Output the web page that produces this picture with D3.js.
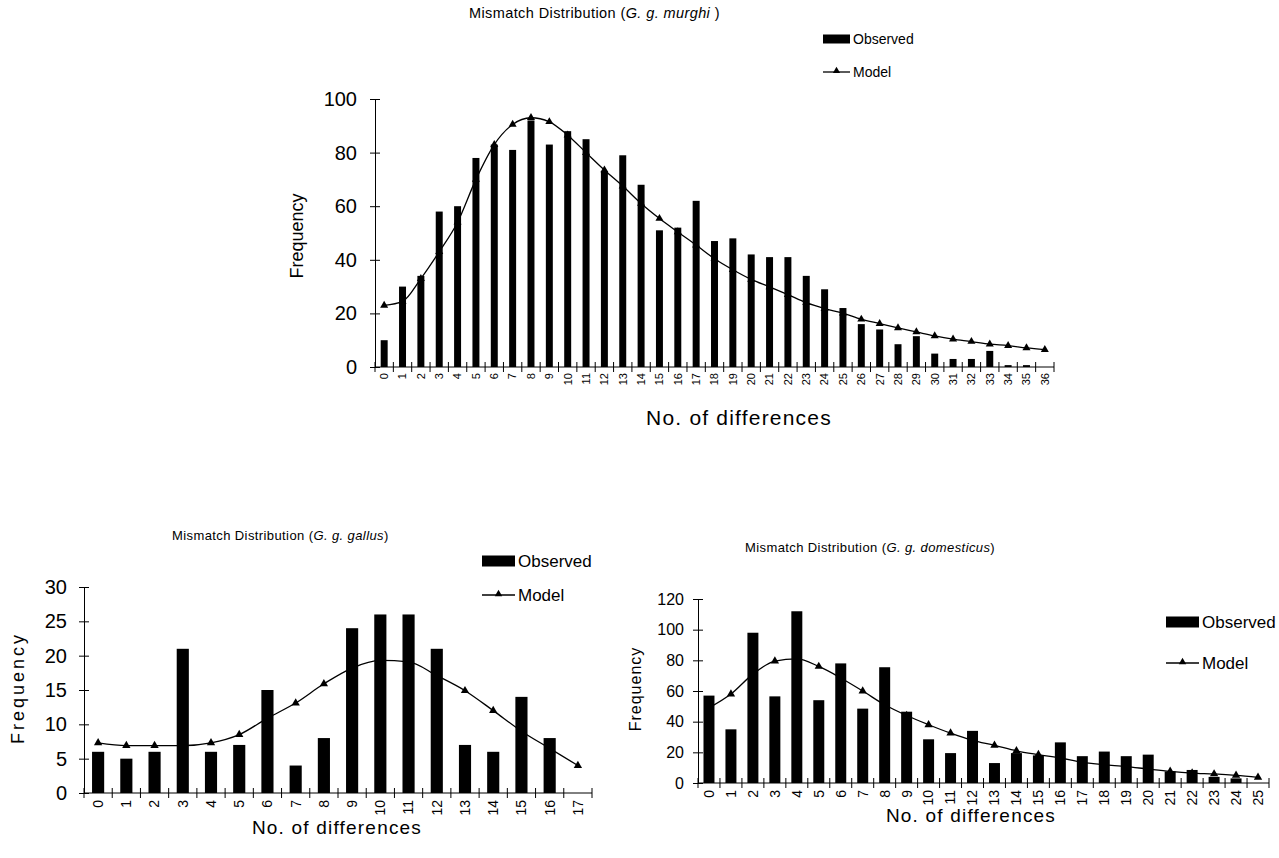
<!DOCTYPE html>
<html>
<head>
<meta charset="utf-8">
<script src="https://cdn.jsdelivr.net/npm/d3@7"></script>
<style>
  body { margin: 0; background: #fff; }
  svg { font-family: "Liberation Sans", Arial, sans-serif; }
</style>
</head>
<body>
<div class="main"></div>
<script>
// G. g. murghi
var murghiObserved = [10, 30, 34, 58, 60, 78, 83, 81, 92, 83, 88, 85, 73, 79, 68, 51, 52, 62, 47, 48,
                      42, 41, 41, 34, 29, 22, 16, 14, 8.5, 11.5, 5, 3, 3, 6, 0.7, 0.7, 0];
var murghiModel = [23, 24.5, 33, 43, 54, 70, 83, 90.5, 93, 91.5, 86.5, 80, 73.5, 67.5, 61, 55.4, 50.4, 45.5,
                   40.4, 36.3, 32.7, 29.9, 27, 24, 21.8, 20.1, 17.8, 16.2, 14.6, 13.1, 11.6, 10.4, 9.5, 8.5, 8, 7.1, 6.5];
// G. g. gallus
var gallusObserved = [6, 5, 6, 21, 6, 7, 15, 4, 8, 24, 26, 26, 21, 7, 6, 14, 8, 0];
var gallusModel = [7.3, 6.9, 6.9, 6.9, 7.3, 8.5, 10.9, 13.1, 15.9, 18.2, 19.3, 19.1, 17.1, 14.9, 12, 9, 6.5, 4];
// G. g. domesticus
var domObserved = [57, 35, 98, 56.5, 112, 54, 78, 48.5, 75.5, 46.5, 28.5, 19.5, 34, 13, 19.5, 18, 26.5, 17.5,
                   20.5, 17.5, 18.5, 7.5, 8.5, 4, 3, 0];
var domModel = [49, 58, 71, 79.5, 81, 76, 68.5, 60, 51, 44, 38, 32.5, 27.8, 24.6, 21, 18.5, 16.3, 13.5,
                12, 10.7, 9.1, 7.6, 6.5, 5.9, 5, 3.7];

var svg = d3.select(".main").append("svg")
    .attr("width", 1279)
    .attr("height", 858);

function drawChart(opt) {
    var cats = opt.observed.map((d, i) => i);
    var x = d3.scaleBand().domain(cats).range([opt.left, opt.right]);
    var y = d3.scaleLinear().domain([0, opt.yMax]).range([opt.bottom, opt.top]);
    var g = svg.append("g");

    // bars
    g.selectAll("rect.bar")
        .data(opt.observed)
        .enter()
        .append("rect")
        .attr("class", "bar")
        .attr("x", (d, i) => x(i) + x.bandwidth() * (1 - opt.barFrac) / 2)
        .attr("width", x.bandwidth() * opt.barFrac)
        .attr("y", d => y(d))
        .attr("height", d => opt.bottom - y(d))
        .style("fill", "#000");

    // model line
    var line = d3.line()
        .x((d, i) => x(i) + x.bandwidth() / 2)
        .y(d => y(d))
        .curve(d3.curveMonotoneX);
    g.append("path")
        .datum(opt.model)
        .attr("d", line)
        .style("fill", "none")
        .style("stroke", "#000")
        .style("stroke-width", 1.3);
    var tri = d3.symbol().type(d3.symbolTriangle).size(opt.markSize);
    g.selectAll("path.mark")
        .data(opt.model)
        .enter()
        .append("path")
        .attr("class", "mark")
        .attr("d", tri)
        .attr("transform", (d, i) => "translate(" + (x(i) + x.bandwidth() / 2) + "," + y(d) + ")")
        .style("fill", "#000");

    // y axis
    var yAxis = d3.axisLeft(y).tickValues(d3.range(0, opt.yMax + 1, opt.yStep))
        .tickSizeInner(-5).tickSizeOuter(0).tickPadding(0);
    var ya = g.append("g").attr("transform", "translate(" + opt.left + ",0)").call(yAxis);
    ya.select(".domain").style("stroke", "#000");
    ya.selectAll(".tick line").attr("x1", -5).attr("x2", 5).style("stroke", "#000");
    ya.selectAll(".tick text").attr("x", -opt.yLabelGap)
        .style("font-size", opt.yFont + "px").style("font-family", "Liberation Sans").style("fill", "#000");

    // x axis: ticks at band edges
    var xAxisGroup = g.append("g").attr("transform", "translate(0," + opt.bottom + ")");
    xAxisGroup.append("line")
        .attr("x1", opt.left).attr("x2", opt.right)
        .style("stroke", "#000");
    var edges = cats.map(i => x(i)).concat([opt.right]);
    xAxisGroup.selectAll("line.tk")
        .data(edges)
        .enter()
        .append("line")
        .attr("class", "tk")
        .attr("x1", d => d).attr("x2", d => d)
        .attr("y1", -5).attr("y2", 5)
        .style("stroke", "#000");
    xAxisGroup.selectAll("text")
        .data(cats)
        .enter()
        .append("text")
        .attr("transform", d => "translate(" + (x(d) + x.bandwidth() / 2 + opt.xFont * 0.35) + "," + opt.xLabelGap + ") rotate(-90)")
        .attr("text-anchor", "end")
        .style("font-size", opt.xFont + "px")
        .text(d => d);

    // axis titles
    g.append("text")
        .attr("transform", "translate(" + opt.yTitleX + "," + opt.yTitleY + ") rotate(-90)")
        .attr("text-anchor", "middle")
        .style("font-size", opt.yTitleFont + "px")
        .style("letter-spacing", opt.yTitleSpacing + "px")
        .text("Frequency");
    g.append("text")
        .attr("x", opt.xTitleX).attr("y", opt.xTitleY)
        .attr("text-anchor", "middle")
        .style("font-size", opt.xTitleFont + "px")
        .style("letter-spacing", "1.2px")
        .text("No. of differences");

    // chart title
    var t = g.append("text")
        .attr("x", opt.titleX).attr("y", opt.titleY)
        .style("font-size", opt.titleFont + "px")
        .style("letter-spacing", "0.4px");
    t.append("tspan").text("Mismatch Distribution (");
    t.append("tspan").style("font-style", "italic").text(opt.species);
    t.append("tspan").text(")");

    // legend
    var lg = g.append("g").attr("transform", "translate(" + opt.legX + ",0)");
    lg.append("rect")
        .attr("x", 0).attr("y", opt.legY1 - opt.legRectH / 2)
        .attr("width", opt.legW).attr("height", opt.legRectH)
        .style("fill", "#000");
    lg.append("text")
        .attr("x", opt.legW + 3).attr("y", opt.legY1)
        .attr("dy", "0.35em")
        .style("font-size", opt.legFont + "px")
        .text("Observed");
    lg.append("line")
        .attr("x1", 0).attr("x2", opt.legW)
        .attr("y1", opt.legY2).attr("y2", opt.legY2)
        .style("stroke", "#000").style("stroke-width", 1.3);
    lg.append("path")
        .attr("d", d3.symbol().type(d3.symbolTriangle).size(opt.markSize * 0.8))
        .attr("transform", "translate(" + (opt.legW / 2) + "," + (opt.legY2 - 1) + ")");
    lg.append("text")
        .attr("x", opt.legW + 3).attr("y", opt.legY2)
        .attr("dy", "0.35em")
        .style("font-size", opt.legFont + "px")
        .text("Model");
}

drawChart({
    observed: murghiObserved, model: murghiModel, species: "G. g. murghi ",
    left: 375, right: 1054, top: 99, bottom: 367, yMax: 100, yStep: 20,
    barFrac: 0.38, markSize: 28,
    yFont: 20, yLabelGap: 18, xFont: 11, xLabelGap: 6,
    yTitleX: 303, yTitleY: 236, yTitleFont: 18, yTitleSpacing: 0,
    xTitleX: 739, xTitleY: 425, xTitleFont: 21,
    titleX: 469, titleY: 18, titleFont: 14.5,
    legX: 823, legW: 27, legY1: 39, legY2: 72, legRectH: 9, legFont: 14
});

drawChart({
    observed: gallusObserved, model: gallusModel, species: "G. g. gallus",
    left: 84, right: 592, top: 587, bottom: 793, yMax: 30, yStep: 5,
    barFrac: 0.43, markSize: 30,
    yFont: 20, yLabelGap: 17, xFont: 14, xLabelGap: 7,
    yTitleX: 24, yTitleY: 688, yTitleFont: 18, yTitleSpacing: 3,
    xTitleX: 337, xTitleY: 834, xTitleFont: 19,
    titleX: 172, titleY: 540, titleFont: 13,
    legX: 482, legW: 33, legY1: 561, legY2: 595, legRectH: 11, legFont: 17
});

drawChart({
    observed: domObserved, model: domModel, species: "G. g. domesticus",
    left: 698, right: 1269, top: 599, bottom: 783, yMax: 120, yStep: 20,
    barFrac: 0.5, markSize: 30,
    yFont: 16, yLabelGap: 14, xFont: 14, xLabelGap: 7,
    yTitleX: 641, yTitleY: 689, yTitleFont: 16, yTitleSpacing: 1,
    xTitleX: 971, xTitleY: 822, xTitleFont: 19,
    titleX: 745, titleY: 552, titleFont: 13,
    legX: 1166, legW: 33, legY1: 622, legY2: 663, legRectH: 11, legFont: 17
});
</script>
</body>
</html>
